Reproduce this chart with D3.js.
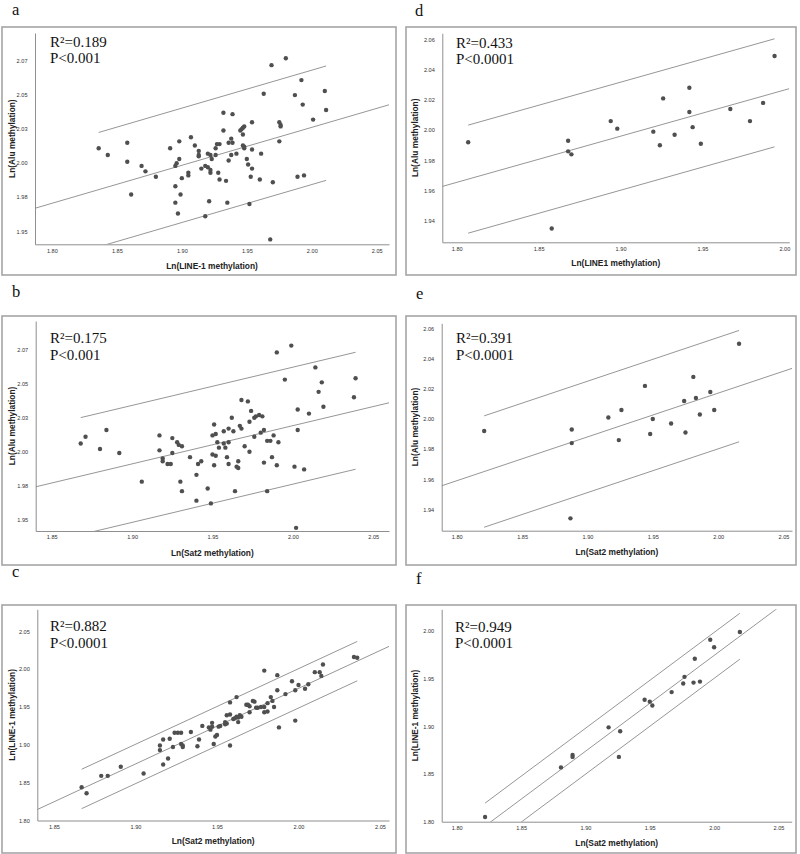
<!DOCTYPE html>
<html><head><meta charset="utf-8">
<script src="https://cdn.jsdelivr.net/npm/d3@7"></script>
<style>body{margin:0;background:#fff}svg{display:block}</style>
</head><body><svg id="chart" width="800" height="854"></svg>
<script>
// ---------- DATA ----------
const pointsA = [[1.836,2.011],[1.843,2.006],[1.858,2.015],[1.858,2.001],[1.861,1.977],[1.869,1.998],[1.872,1.994],[1.880,1.990],[1.891,2.011],[1.898,2.016],[1.895,1.998],[1.896,2.000],[1.898,2.003],[1.900,1.989],[1.895,1.983],[1.899,1.977],[1.895,1.971],[1.897,1.963],[1.905,1.993],[1.905,1.991],[1.907,2.019],[1.910,2.013],[1.913,2.009],[1.913,2.006],[1.913,2.005],[1.915,1.996],[1.918,1.961],[1.918,1.998],[1.920,1.997],[1.922,1.995],[1.922,1.993],[1.920,2.007],[1.922,2.006],[1.923,2.003],[1.921,1.972],[1.926,2.006],[1.926,2.011],[1.927,2.014],[1.929,2.014],[1.928,1.993],[1.929,1.988],
[1.934,1.987],[1.932,2.037],[1.939,2.036],[1.932,2.024],[1.954,2.030],[1.945,2.024],[1.946,2.025],[1.947,2.026],[1.948,2.027],[1.947,2.021],[1.936,2.015],[1.938,2.018],[1.939,2.015],[1.947,2.013],[1.948,2.011],[1.948,2.012],[1.954,2.010],[1.938,2.006],[1.942,2.007],[1.936,2.002],[1.950,2.003],[1.951,1.999],[1.954,1.996],[1.961,2.007],[1.953,1.990],[1.960,1.988],[1.970,1.986],[1.989,1.990],[1.994,1.991],[1.935,1.971],[1.952,1.970],[1.968,1.944],[1.969,2.072],[1.980,2.077],[1.963,2.051],[1.992,2.061],[1.987,2.050],[1.993,2.043],[2.010,2.053],[2.011,2.039],[2.001,2.032],[1.975,2.030],[1.976,2.028],[1.976,2.027],[1.975,2.016]];

const pointsB = [[1.868,2.006],[1.871,2.011],[1.884,2.016],[1.880,2.002],[1.892,1.999],[1.906,1.978],[1.917,2.012],[1.917,2.001],[1.925,2.010],[1.928,2.007],[1.929,2.005],[1.931,2.004],[1.925,1.999],[1.919,1.995],[1.919,1.993],[1.922,1.991],[1.924,1.991],[1.936,1.996],[1.941,1.991],[1.943,1.993],[1.940,1.983],[1.930,1.978],[1.931,1.971],[1.940,1.964],[1.947,1.973],[1.949,1.962],[1.951,2.020],[1.950,2.012],[1.952,2.013],[1.953,2.007],[1.954,2.003],[1.950,1.998],[1.952,1.997],[1.951,1.990],
[1.990,2.073],[1.999,2.078],[2.014,2.062],[1.995,2.053],[2.018,2.051],[2.016,2.044],[2.039,2.054],[2.038,2.040],[2.019,2.033],[2.010,2.028],[2.003,2.031],[2.003,2.016],[1.968,2.038],[1.972,2.037],[1.974,2.030],[1.976,2.025],[1.977,2.026],[1.979,2.027],[1.981,2.026],[1.973,2.022],[1.962,2.025],[1.967,2.019],[1.968,2.017],[1.960,2.017],[1.963,2.015],[1.957,2.015],[1.982,2.016],[1.980,2.014],[1.976,2.011],[1.957,2.006],[1.960,2.007],[1.958,2.003],[1.970,2.004],[1.973,2.000],[1.984,2.008],[1.986,2.008],[1.988,2.012],[1.991,2.007],[1.959,1.996],[1.966,1.993],[1.965,1.989],[1.966,1.988],[1.960,1.991],[1.982,1.992],[1.987,1.996],[1.990,1.990],[2.001,1.989],[2.007,1.987],[1.964,1.971],[1.984,1.971],[2.002,1.944]];

const pointsC = [[1.867,1.844],[1.870,1.836],[1.879,1.859],[1.883,1.859],[1.891,1.871],[1.905,1.862],[1.915,1.893],[1.915,1.899],[1.917,1.907],[1.917,1.874],[1.920,1.882],[1.921,1.908],[1.923,1.897],[1.924,1.916],[1.926,1.916],[1.928,1.916],[1.928,1.901],[1.929,1.899],[1.929,1.897],[1.934,1.917],[1.938,1.898],[1.939,1.907],[1.941,1.925],[1.945,1.923],[1.946,1.920],[1.947,1.924],[1.947,1.929],[1.949,1.911],[1.950,1.913],[1.948,1.901],[1.951,1.924],[1.952,1.925],[1.955,1.930],[1.955,1.927],[1.956,1.928],[1.956,1.939],[1.958,1.940],[1.958,1.956],[1.958,1.899],[1.960,1.934],[1.961,1.935],[1.962,1.937],[1.963,1.936],[1.964,1.939],[1.965,1.937],[1.963,1.930],[1.962,1.963],[1.968,1.953],[1.969,1.953],[1.970,1.951],[1.970,1.943],[1.972,1.958],[1.973,1.957],[1.974,1.949],[1.975,1.949],[1.977,1.950],[1.979,1.950],[1.979,1.998],[1.979,1.943],[1.981,1.944],[1.981,1.955],[1.983,1.963],[1.984,1.958],[1.985,1.950],[1.987,1.992],[1.987,1.972],[1.988,1.923],[1.992,1.967],[1.996,1.984],[1.998,1.932],[1.998,1.972],[2.000,1.979],[2.004,1.974],[2.006,1.980],[2.010,1.996],[2.013,1.996],[2.014,1.991],[2.015,2.006],[2.034,2.016],[2.036,2.015]];

const pointsD = [[1.807,1.992],[1.868,1.993],[1.868,1.986],[1.870,1.984],[1.894,2.006],[1.898,2.001],[1.920,1.999],[1.924,1.990],[1.926,2.021],[1.933,1.997],[1.942,2.012],[1.942,2.028],[1.944,2.002],[1.949,1.991],[1.967,2.014],[1.979,2.006],[1.987,2.018],[1.994,2.049],[1.858,1.935]];

const pointsE = [[1.821,1.992],[1.888,1.993],[1.888,1.984],[1.887,1.934],[1.916,2.001],[1.926,2.006],[1.924,1.986],[1.944,2.022],[1.950,2.000],[1.948,1.990],[1.964,1.997],[1.974,2.012],[1.981,2.028],[1.983,2.014],[1.975,1.991],[1.986,2.003],[1.994,2.018],[1.997,2.006],[2.016,2.050]];

const pointsF = [[1.822,1.805],[1.881,1.857],[1.890,1.870],[1.890,1.868],[1.918,1.899],[1.926,1.868],[1.927,1.895],[1.946,1.928],[1.950,1.926],[1.952,1.922],[1.967,1.936],[1.976,1.945],[1.977,1.952],[1.984,1.946],[1.989,1.947],[1.985,1.971],[1.997,1.991],[2.000,1.983],[2.020,1.999]];

// fit lines: [x0, intercept at x0, slope, half-width of prediction band]
const fitA = [1.80, 1.9705, 0.279, 0.042];
const fitB = [1.85, 1.977, 0.281, 0.043];
const fitC = [1.85, 1.8247, 0.999, 0.026];
const fitD = [1.80, 1.9655, 0.305, 0.0357];
const fitE = [1.80, 1.959, 0.291, 0.037];
const fitF = [1.80, 1.7733, 1.006, 0.0241];

const statsA = ["R²=0.189", "P<0.001"];
const statsB = ["R²=0.175", "P<0.001"];
const statsC = ["R²=0.882", "P<0.0001"];
const statsD = ["R²=0.433", "P<0.0001"];
const statsE = ["R²=0.391", "P<0.0001"];
const statsF = ["R²=0.949", "P<0.0001"];

const yTicksAlu25 = [1.95, 1.975, 2.00, 2.025, 2.05, 2.075];
const yLabelsAlu25 = ["1.95", "1.98", "2.00", "2.03", "2.05", "2.07"];
const yTicksAlu20 = [1.94, 1.96, 1.98, 2.00, 2.02, 2.04, 2.06];
const yLabelsAlu20 = ["1.94", "1.96", "1.98", "2.00", "2.02", "2.04", "2.06"];
const yTicksLine = [1.80, 1.85, 1.90, 1.95, 2.00, 2.05];
const yLabelsLine = ["1.80", "1.85", "1.90", "1.95", "2.00", "2.05"];
const xTicks180to205 = [1.80, 1.85, 1.90, 1.95, 2.00, 2.05];
const xLabels180to205 = ["1.80", "1.85", "1.90", "1.95", "2.00", "2.05"];
const xTicks185to205 = [1.85, 1.90, 1.95, 2.00, 2.05];
const xLabels185to205 = ["1.85", "1.90", "1.95", "2.00", "2.05"];
const xTicks180to200 = [1.80, 1.85, 1.90, 1.95, 2.00];
const xLabels180to200 = ["1.80", "1.85", "1.90", "1.95", "2.00"];

const titleAlu = "Ln(Alu methylation)";
const titleLine1 = "Ln(LINE-1 methylation)";
const titleLine1b = "Ln(LINE1 methylation)";
const titleSat2 = "Ln(Sat2 methylation)";

// ---------- PANELS ----------
const panels = [
  {id:"a", data:pointsA, fit:fitA, stats:statsA, xTicks:xTicks180to205, xLabels:xLabels180to205,
   yTicks:yTicksAlu25, yLabels:yLabelsAlu25, xTitle:titleLine1, yTitle:titleAlu,
   xDomain:[1.787, 2.0594], yDomain:[1.9404, 2.0956],
   L:{frame:[2,27,396,275], plot:[35,33,389,244.3], letter:[12,14.5], stats:[50,46.7,63.3], yTitleX:12, xTitleY:268.5}},
  {id:"b", data:pointsB, fit:fitB, stats:statsB, xTicks:xTicks185to205, xLabels:xLabels185to205,
   yTicks:yTicksAlu25, yLabels:yLabelsAlu25, xTitle:titleSat2, yTitle:titleAlu,
   xDomain:[1.840, 2.0598], yDomain:[1.9417, 2.0961],
   L:{frame:[2,316,396,565], plot:[35.7,321,389,531], letter:[12,297], stats:[50,343.3,360], yTitleX:12, xTitleY:555.5}},
  {id:"c", data:pointsC, fit:fitC, stats:statsC, xTicks:xTicks185to205, xLabels:xLabels185to205,
   yTicks:yTicksLine, yLabels:yLabelsLine, xTitle:titleSat2, yTitle:titleLine1,
   xDomain:[1.8398, 2.0555], yDomain:[1.80, 2.079],
   L:{frame:[2,605,396,853], plot:[37.3,609.3,389,820.5], letter:[12,577], stats:[50,631,647.7], yTitleX:12, xTitleY:843.5}},
  {id:"d", data:pointsD, fit:fitD, stats:statsD, xTicks:xTicks180to200, xLabels:xLabels180to200,
   yTicks:yTicksAlu20, yLabels:yLabelsAlu20, xTitle:titleLine1b, yTitle:titleAlu,
   xDomain:[1.7912, 2.003], yDomain:[1.9259, 2.064],
   L:{frame:[406,27,796,275], plot:[442.3,33.3,789.3,242.3], letter:[415,15.5], stats:[456,47.7,64.3], yTitleX:415, xTitleY:266}},
  {id:"e", data:pointsE, fit:fitE, stats:statsE, xTicks:xTicks180to205, xLabels:xLabels180to205,
   yTicks:yTicksAlu20, yLabels:yLabelsAlu20, xTitle:titleSat2, yTitle:titleAlu,
   xDomain:[1.7885, 2.0565], yDomain:[1.9258, 2.0636],
   L:{frame:[406,316,796,565], plot:[441.7,323.3,792,530.7], letter:[416,299], stats:[456,343.3,360], yTitleX:415, xTitleY:554.5}},
  {id:"f", data:pointsF, fit:fitF, stats:statsF, xTicks:xTicks180to205, xLabels:xLabels180to205,
   yTicks:yTicksLine.slice(0,5), yLabels:yLabelsLine.slice(0,5), xTitle:titleSat2, yTitle:titleLine1,
   xDomain:[1.7883, 2.0603], yDomain:[1.80, 2.0229],
   L:{frame:[406,605,796,853], plot:[441.7,609.3,791.7,821.7], letter:[416,584], stats:[455,631.7,648.3], yTitleX:415, xTitleY:845.5}}
];

const svg = d3.select("#chart");
const SERIF = "'Liberation Serif', 'Times New Roman', serif";
const SANS = "'Liberation Sans', Arial, sans-serif";

function drawPanel(p, idx) {
  const L = p.L;
  const [pl, pt, pr, pb] = L.plot;
  const g = svg.append("g");

  g.append("rect")
    .attr("x", L.frame[0]).attr("y", L.frame[1])
    .attr("width", L.frame[2] - L.frame[0]).attr("height", L.frame[3] - L.frame[1])
    .attr("fill", "none").attr("stroke", "#a5a5a5").attr("stroke-width", 1.6);

  g.append("text").attr("x", L.letter[0]).attr("y", L.letter[1])
    .attr("font-family", SERIF).attr("font-size", 16.5).attr("fill", "#111").text(p.id);

  const x = d3.scaleLinear().domain(p.xDomain).range([pl, pr]);
  const y = d3.scaleLinear().domain(p.yDomain).range([pb, pt]);

  const clipId = "clip" + idx;
  g.append("clipPath").attr("id", clipId).append("rect")
    .attr("x", pl).attr("y", pt).attr("width", pr - pl).attr("height", pb - pt);

  // axes
  const xa = g.append("g").attr("transform", `translate(0,${pb})`)
    .call(d3.axisBottom(x).tickValues(p.xTicks).tickFormat((d, i) => p.xLabels[i]).tickSize(0).tickPadding(4.5));
  const ya = g.append("g").attr("transform", `translate(${pl},0)`)
    .call(d3.axisLeft(y).tickValues(p.yTicks).tickFormat((d, i) => p.yLabels[i]).tickSize(0).tickPadding(7.5));
  [xa, ya].forEach(a => {
    a.attr("font-family", SANS).attr("font-size", 5.6);
    a.select(".domain").attr("stroke", "#8f8f8f").attr("stroke-width", 1);
    a.selectAll("text").attr("fill", "#333");
  });

  // fit lines
  const [x0, b0, b1, hw] = p.fit;
  const f = xv => b0 + b1 * (xv - x0);
  const line = d3.line().x(d => x(d[0])).y(d => y(d[1]));
  const ext = d3.extent(p.data, d => d[0]);
  const lines = [
    [[p.xDomain[0], f(p.xDomain[0])], [p.xDomain[1], f(p.xDomain[1])]],
    [[ext[0], f(ext[0]) + hw], [ext[1], f(ext[1]) + hw]],
    [[ext[0], f(ext[0]) - hw], [ext[1], f(ext[1]) - hw]]
  ];
  const lg = g.append("g").attr("clip-path", `url(#${clipId})`);
  lg.selectAll("path").data(lines).join("path")
    .attr("d", line).attr("fill", "none").attr("stroke", "#8a8a8a").attr("stroke-width", 0.9);

  // points
  g.append("g").selectAll("circle").data(p.data).join("circle")
    .attr("cx", d => x(d[0])).attr("cy", d => y(d[1])).attr("r", 2.2).attr("fill", "#4f4f4f");

  // stats
  p.stats.forEach((s, i) => {
    g.append("text").attr("x", L.stats[0]).attr("y", L.stats[1 + i])
      .attr("font-family", SERIF).attr("font-size", 15).attr("fill", "#111").text(s);
  });

  // titles
  g.append("text").attr("x", (pl + pr) / 2).attr("y", L.xTitleY)
    .attr("text-anchor", "middle").attr("font-family", SANS).attr("font-weight", "bold")
    .attr("font-size", 8.4).attr("fill", "#222").text(p.xTitle);
  g.append("text").attr("transform", `translate(${L.yTitleX},${(pt + pb) / 2}) rotate(-90)`)
    .attr("text-anchor", "middle").attr("dy", "0.35em").attr("font-family", SANS).attr("font-weight", "bold")
    .attr("font-size", 8.4).attr("fill", "#222").text(p.yTitle);
}

panels.forEach(drawPanel);
</script>
</body></html>
